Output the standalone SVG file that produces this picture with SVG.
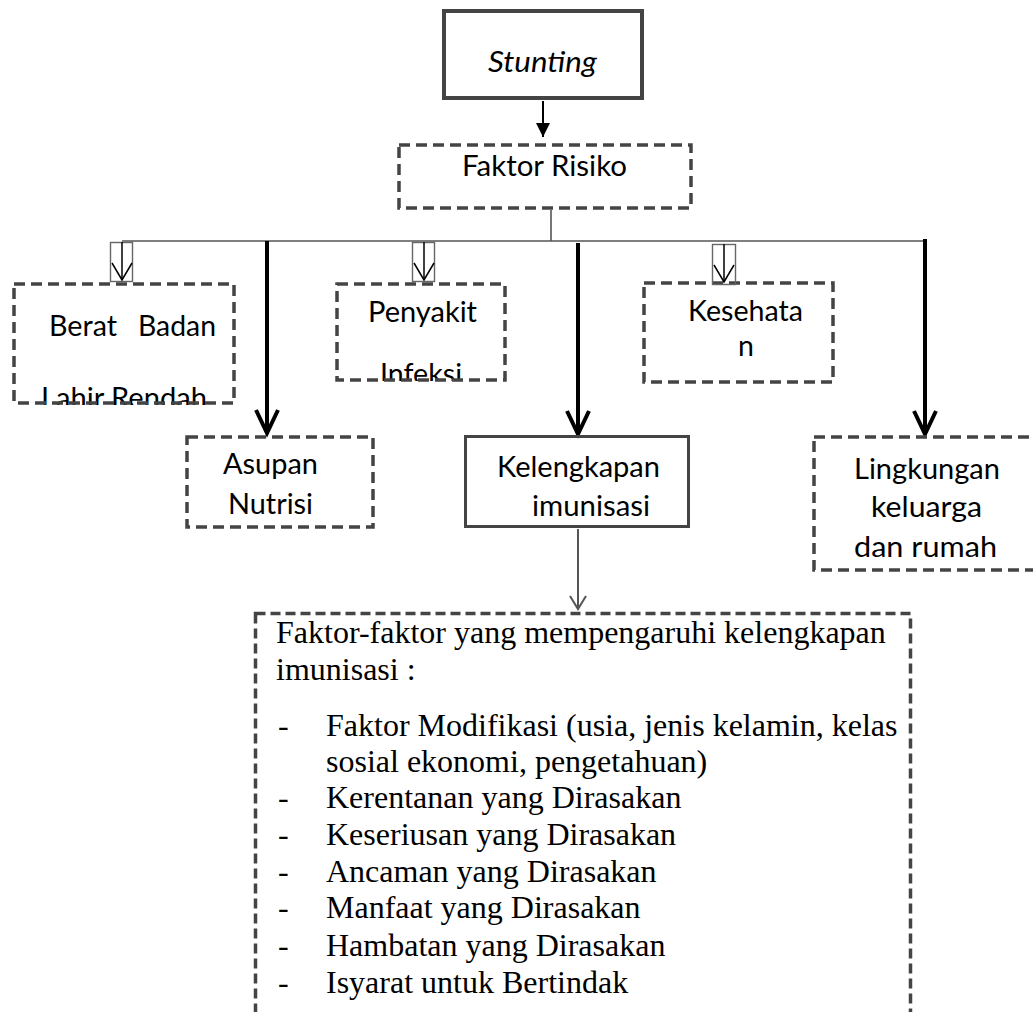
<svg xmlns="http://www.w3.org/2000/svg" width="1033" height="1012" viewBox="0 0 1033 1012">
<style>
.box{fill:none;stroke:#444;stroke-width:3.5}
.dash{stroke-dasharray:11 6}
.solid{fill:none;stroke:#444;stroke-width:4}
.lbl{font-family:Lato,"Liberation Sans",sans-serif;font-size:28.5px;fill:#000}
.tnr{font-family:"Liberation Serif","Times New Roman",serif;font-size:32px;fill:#000}
.thin{stroke:#555;stroke-width:1.6;fill:none}
.thick{stroke:#000;stroke-width:4;fill:none}
.mini{fill:none;stroke:#666;stroke-width:1.4}
.miniarrow{stroke:#000;stroke-width:1.5;fill:none}
</style>
<defs>
<marker id="tri" markerUnits="userSpaceOnUse" orient="auto" refX="0" refY="0" overflow="visible" markerWidth="1" markerHeight="1">
<path d="M-14,-7 L0,0 L-14,7 Z" fill="#000"/>
</marker>
<marker id="vbig" markerUnits="userSpaceOnUse" orient="auto" refX="0" refY="0" overflow="visible" markerWidth="1" markerHeight="1">
<path d="M-23,-11 L0,0 L-23,11" fill="none" stroke="#000" stroke-width="4"/>
</marker>
<marker id="vsmall" markerUnits="userSpaceOnUse" orient="auto" refX="0" refY="0" overflow="visible" markerWidth="1" markerHeight="1">
<path d="M-17,-10 L0,0 L-17,10" fill="none" stroke="#000" stroke-width="1.5"/>
</marker>
<marker id="vgray" markerUnits="userSpaceOnUse" orient="auto" refX="0" refY="0" overflow="visible" markerWidth="1" markerHeight="1">
<path d="M-13,-8 L0,0 L-13,8" fill="none" stroke="#555" stroke-width="2"/>
</marker>
<clipPath id="clipBerat"><rect x="0" y="360" width="260" height="45"/></clipPath>
<clipPath id="clipInfeksi"><rect x="330" y="340" width="190" height="41"/></clipPath>
</defs>

<g id="connectors">
<line x1="543" y1="101" x2="543" y2="137" stroke="#000" stroke-width="2" marker-end="url(#tri)"/>
<line class="thin" x1="551" y1="210" x2="551" y2="241"/>
<line class="thin" x1="122" y1="241" x2="925" y2="241"/>
<line class="thick" x1="267" y1="241" x2="267" y2="433" marker-end="url(#vbig)"/>
<line class="thick" x1="578" y1="243" x2="578" y2="434" marker-end="url(#vbig)"/>
<line class="thick" x1="925" y1="239" x2="925" y2="434" marker-end="url(#vbig)"/>
<line x1="578" y1="529" x2="578" y2="609" stroke="#555" stroke-width="2" marker-end="url(#vgray)"/>
</g>

<g id="node-stunting">
<rect class="solid" x="444" y="11" width="198" height="87"/>
<text class="lbl" x="488" y="72" font-style="italic" textLength="109" lengthAdjust="spacingAndGlyphs">Stunting</text>
</g>

<g id="node-faktor-risiko">
<rect class="box dash" x="399" y="145" width="292" height="63"/>
<text class="lbl" x="462" y="176" textLength="165" lengthAdjust="spacingAndGlyphs">Faktor Risiko</text>
</g>

<g id="node-berat-badan">
<text class="lbl" y="336"><tspan x="49" textLength="68" lengthAdjust="spacingAndGlyphs">Berat</tspan> <tspan x="138" textLength="78" lengthAdjust="spacingAndGlyphs">Badan</tspan></text>
<text class="lbl" x="41" y="408" textLength="166" lengthAdjust="spacingAndGlyphs" clip-path="url(#clipBerat)">Lahir Rendah</text>
<rect class="box dash" x="14" y="284" width="220" height="119"/>
</g>

<g id="node-penyakit-infeksi">
<text class="lbl" x="368" y="322" textLength="109" lengthAdjust="spacingAndGlyphs">Penyakit</text>
<text class="lbl" x="380" y="384" textLength="82" lengthAdjust="spacingAndGlyphs" clip-path="url(#clipInfeksi)">Infeksi</text>
<rect class="box dash" x="337" y="284" width="168" height="96"/>
</g>

<g id="node-kesehatan">
<rect class="box dash" x="644" y="283" width="189" height="99"/>
<text class="lbl" x="688" y="321" textLength="115" lengthAdjust="spacingAndGlyphs">Kesehata</text>
<text class="lbl" x="746" y="356" text-anchor="middle">n</text>
</g>

<g id="mini-arrows">
<rect class="mini" x="110.5" y="242.5" width="22" height="39"/>
<line class="miniarrow" x1="122" y1="242" x2="122" y2="280" marker-end="url(#vsmall)"/>
<rect class="mini" x="412.5" y="242.5" width="22" height="39"/>
<line class="miniarrow" x1="424" y1="242" x2="424" y2="280" marker-end="url(#vsmall)"/>
<rect class="mini" x="712.5" y="244.5" width="23" height="40"/>
<line class="miniarrow" x1="724" y1="244" x2="724" y2="282" marker-end="url(#vsmall)"/>
</g>

<g id="node-asupan">
<rect class="box dash" x="187" y="437" width="186" height="90"/>
<text class="lbl" x="223" y="474" textLength="95" lengthAdjust="spacingAndGlyphs">Asupan</text>
<text class="lbl" x="228" y="514" textLength="85" lengthAdjust="spacingAndGlyphs">Nutrisi</text>
</g>

<g id="node-kelengkapan">
<rect fill="none" stroke="#444" stroke-width="3" x="465.5" y="436.5" width="223" height="90"/>
<text class="lbl" x="497" y="477" textLength="163" lengthAdjust="spacingAndGlyphs">Kelengkapan</text>
<text class="lbl" x="532" y="516" textLength="118" lengthAdjust="spacingAndGlyphs">imunisasi</text>
</g>

<g id="node-lingkungan">
<rect class="box dash" x="814" y="437" width="240" height="133"/>
<text class="lbl" x="854" y="479" textLength="146" lengthAdjust="spacingAndGlyphs">Lingkungan</text>
<text class="lbl" x="871" y="517" textLength="111" lengthAdjust="spacingAndGlyphs">keluarga</text>
<text class="lbl" x="854" y="557" textLength="143" lengthAdjust="spacingAndGlyphs">dan rumah</text>
</g>

<g id="node-faktor-imunisasi">
<rect class="box" stroke-width="3" stroke-dasharray="10 5" x="255.5" y="613.5" width="655" height="430"/>
<text class="tnr" x="276" y="643">Faktor-faktor yang mempengaruhi kelengkapan</text>
<text class="tnr" x="276" y="680">imunisasi :</text>
<text class="tnr" x="278" y="736">-</text>
<text class="tnr" x="326" y="736">Faktor Modifikasi (usia, jenis kelamin, kelas</text>
<text class="tnr" x="326" y="772">sosial ekonomi, pengetahuan)</text>
<text class="tnr" x="278" y="808">-</text>
<text class="tnr" x="326" y="808">Kerentanan yang Dirasakan</text>
<text class="tnr" x="278" y="845">-</text>
<text class="tnr" x="326" y="845">Keseriusan yang Dirasakan</text>
<text class="tnr" x="278" y="882">-</text>
<text class="tnr" x="326" y="882">Ancaman yang Dirasakan</text>
<text class="tnr" x="278" y="918">-</text>
<text class="tnr" x="326" y="918">Manfaat yang Dirasakan</text>
<text class="tnr" x="278" y="956">-</text>
<text class="tnr" x="326" y="956">Hambatan yang Dirasakan</text>
<text class="tnr" x="278" y="993">-</text>
<text class="tnr" x="326" y="993">Isyarat untuk Bertindak</text>
</g>
</svg>
